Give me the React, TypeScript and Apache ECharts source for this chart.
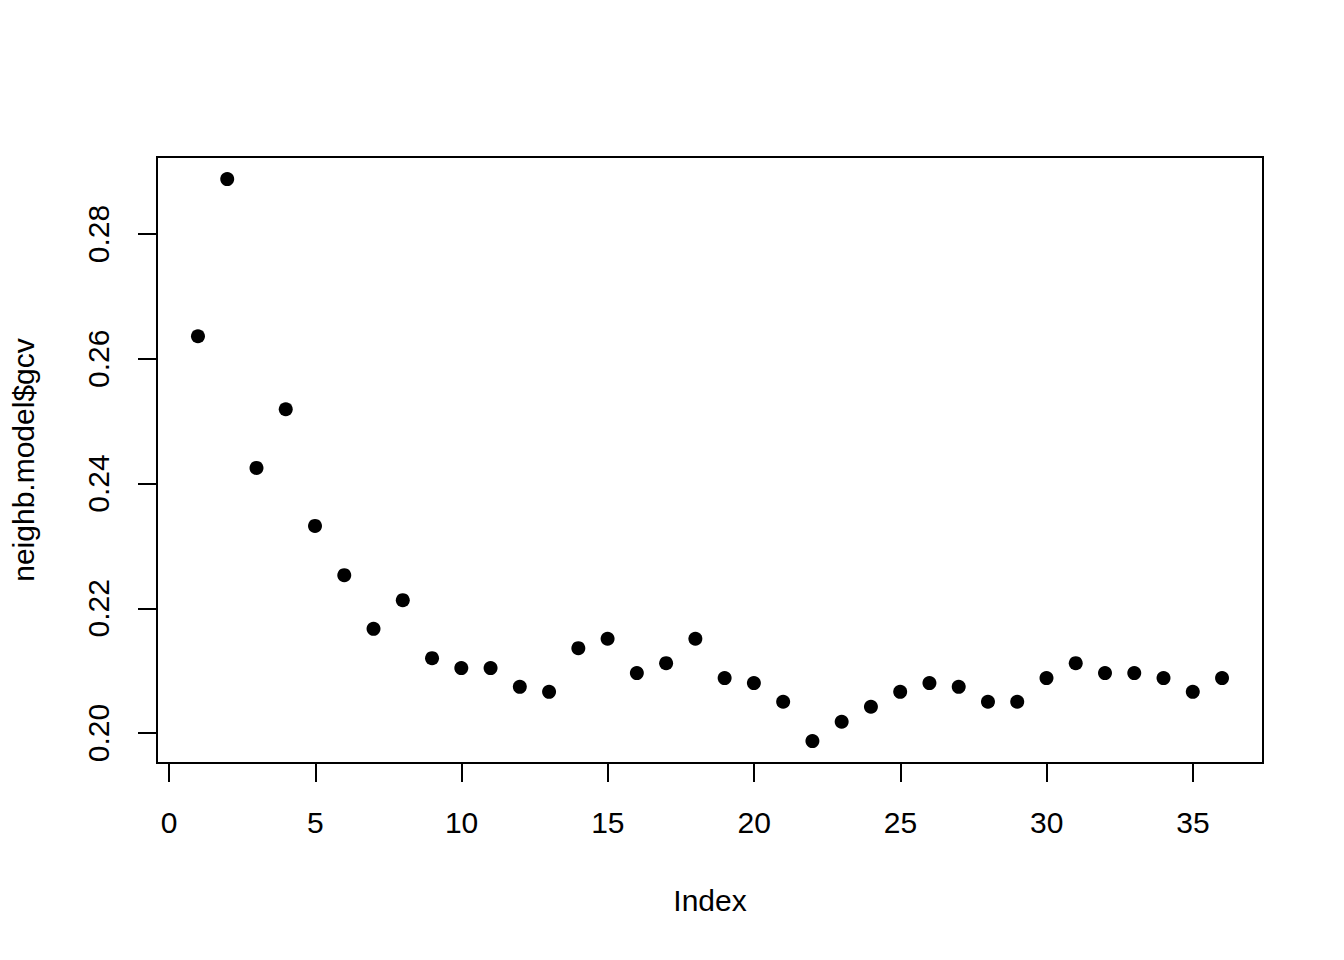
import React, { useEffect, useRef } from "react";
import * as echarts from "echarts";

const indexValues = [
  1, 2, 3, 4, 5, 6, 7, 8, 9, 10, 11, 12, 13, 14, 15, 16, 17, 18,
  19, 20, 21, 22, 23, 24, 25, 26, 27, 28, 29, 30, 31, 32, 33, 34, 35, 36,
];
const gcvValues = [
  0.2636, 0.2888, 0.2425, 0.2519, 0.2332, 0.2253, 0.2167, 0.2213, 0.212,
  0.2104, 0.2104, 0.2074, 0.2066, 0.2136, 0.2151, 0.2096, 0.2112, 0.2151,
  0.2088, 0.208, 0.205, 0.1987, 0.2018, 0.2042, 0.2066, 0.208, 0.2074,
  0.205, 0.205, 0.2088, 0.2112, 0.2096, 0.2096, 0.2088, 0.2066, 0.2088,
];
const xTickMin = 0;
const xTickMax = 35;
const xTickStep = 5;
const yTickMin = 0.2;
const yTickMax = 0.28;
const yTickStep = 0.02;
const xTitle = "Index";
const yTitle = "neighb.model$gcv";

export default function App() {
  const ref = useRef<HTMLDivElement>(null);
  useEffect(() => {
    if (!ref.current) return;
    const chart = echarts.init(ref.current, null, { renderer: "svg" });
    const font = "'Liberation Sans', Arial, sans-serif";
    const pts = indexValues.map((x, i) => [x, gcvValues[i]]);
    const hidden = {
      axisLine: { show: false },
      axisTick: { show: false },
      axisLabel: { show: false },
      splitLine: { show: false },
    };
    chart.setOption({
      animation: false,
      backgroundColor: "#ffffff",
      grid: [
        {
          left: 157, top: 157, width: 1106, height: 606, outerBoundsMode: "none", containLabel: false,
          show: true, borderColor: "#000", borderWidth: 2, backgroundColor: "transparent",
        },
        { left: 169, top: 157, width: 1024, height: 606, outerBoundsMode: "none", containLabel: false },
        { left: 157, top: 234, width: 1106, height: 499, outerBoundsMode: "none", containLabel: false },
      ],
      xAxis: [
        {
          gridIndex: 0, type: "value", min: -0.4, max: 37.4, ...hidden,
          name: xTitle, nameLocation: "middle", nameGap: 122,
          nameTextStyle: { color: "#000", fontSize: 30, fontFamily: font },
        },
        {
          gridIndex: 1, type: "value", min: xTickMin, max: xTickMax, interval: xTickStep,
          position: "bottom",
          axisLine: { show: false },
          splitLine: { show: false },
          axisTick: { show: true, inside: false, length: 19, lineStyle: { color: "#000", width: 2 } },
          axisLabel: { color: "#000", fontSize: 30, fontFamily: font, margin: 44 },
        },
        { gridIndex: 2, type: "value", min: 0, max: 1, show: false },
      ],
      yAxis: [
        {
          gridIndex: 0, type: "value", min: 0.19519, max: 0.29234, ...hidden,
          name: yTitle, nameLocation: "middle", nameGap: 119, nameRotate: 90,
          nameTextStyle: { color: "#000", fontSize: 30, fontFamily: font },
        },
        { gridIndex: 1, type: "value", min: 0, max: 1, show: false },
        {
          gridIndex: 2, type: "value", min: yTickMin, max: yTickMax, interval: yTickStep,
          position: "left",
          axisLine: { show: false },
          splitLine: { show: false },
          axisTick: { show: true, inside: false, length: 19, lineStyle: { color: "#000", width: 2 } },
          axisLabel: {
            color: "#000", fontSize: 30, fontFamily: font, margin: 44, rotate: 90,
            formatter: (v: number) => v.toFixed(2),
          },
        },
      ],
      series: [
        {
          type: "scatter",
          xAxisIndex: 0,
          yAxisIndex: 0,
          data: pts,
          symbol: "circle",
          symbolSize: 14,
          itemStyle: { color: "#000", opacity: 1 },
          emphasis: { disabled: true },
        },
      ],
    });
    return () => chart.dispose();
  }, []);
  return (
    <div
      ref={ref}
      style={{ position: "fixed", left: 0, top: 0, width: 1344, height: 960 }}
    />
  );
}
